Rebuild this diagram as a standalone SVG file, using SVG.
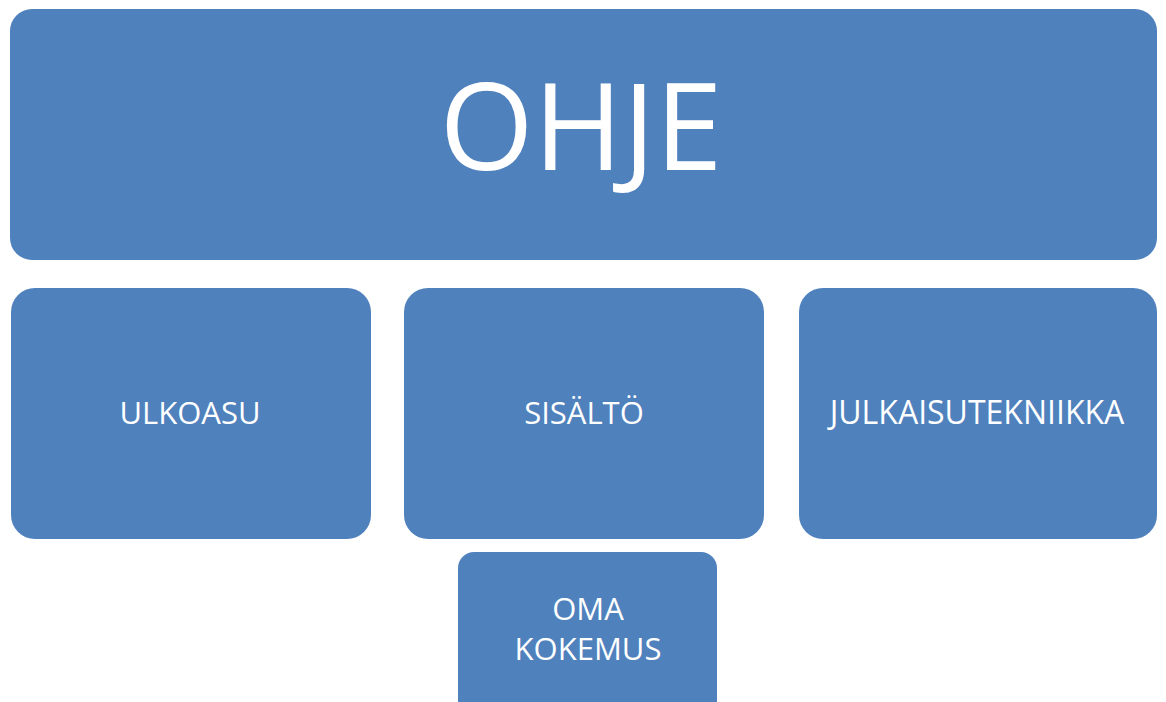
<svg xmlns="http://www.w3.org/2000/svg" width="1166" height="702" viewBox="0 0 1166 702">
<style>
.box{fill:#4F81BD}
.t{fill:#fff;font-family:"Open Sans","Liberation Sans",sans-serif;text-anchor:middle}
.s{font-size:31px}
</style>
<rect width="1166" height="702" fill="#fff"/>
<g id="ohje"><rect class="box" x="10" y="9" width="1147" height="251" rx="22"/><text class="t" x="581" y="170" font-size="121">OHJE</text></g>
<g id="ulkoasu"><rect class="box" x="11" y="288" width="360" height="251" rx="24"/><text class="t s" x="190" y="424">ULKOASU</text></g>
<g id="sisalto"><rect class="box" x="404" y="288" width="360" height="251" rx="24"/><text class="t s" x="584" y="424">SISÄLTÖ</text></g>
<g id="julkaisutekniikka"><rect class="box" x="799" y="288" width="358" height="251" rx="24"/><text class="t" x="977" y="424" font-size="32">JULKAISUTEKNIIKKA</text></g>
<g id="omakokemus"><rect class="box" x="458" y="552" width="259" height="170" rx="16"/><text class="t s" x="588" y="620">OMA</text><text class="t s" x="588" y="660">KOKEMUS</text></g>
<g id="connectors"></g>
</svg>
